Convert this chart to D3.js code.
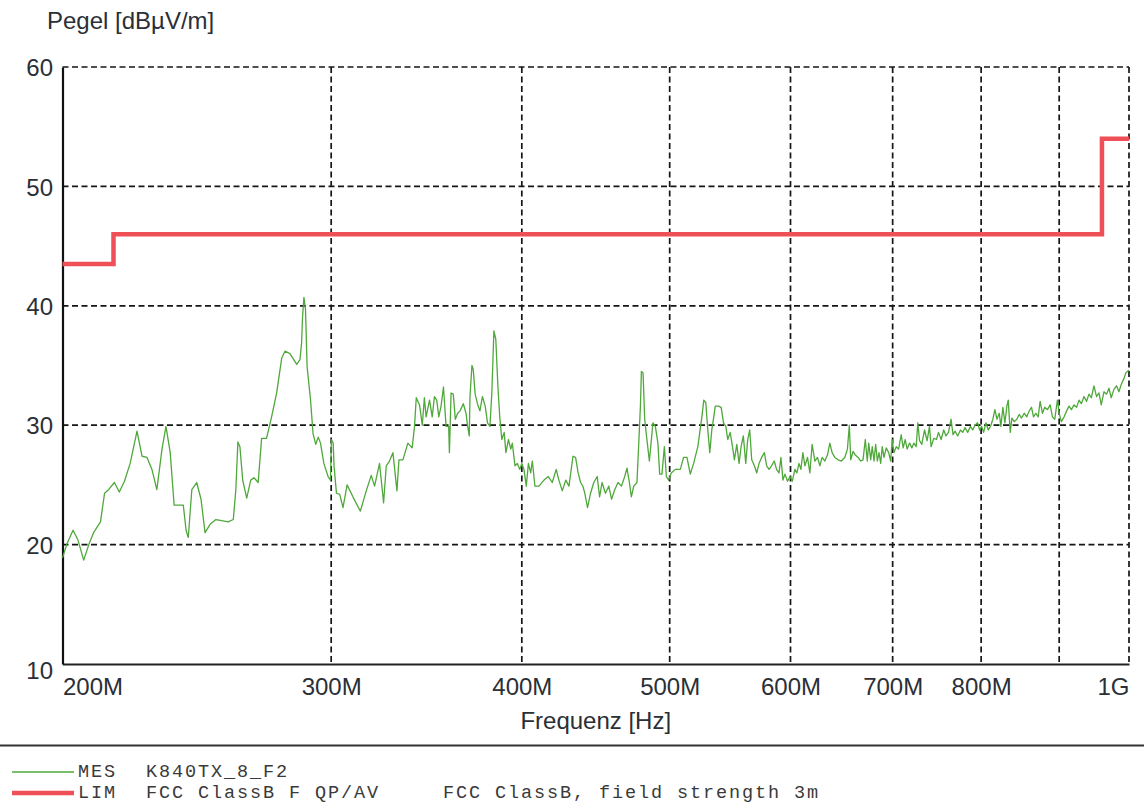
<!DOCTYPE html>
<html>
<head>
<meta charset="utf-8">
<script src="https://cdn.jsdelivr.net/npm/d3@7"></script>
<style>
  html, body { margin: 0; padding: 0; background: #fff; }
  svg { display: block; }
</style>
</head>
<body>
<svg id="chart" width="1144" height="805"></svg>
<script>
// Measured field strength trace (MES K840TX_8_F2): frequency in MHz, level in dBµV/m
const freqMHz = [
  200.0, 201.4, 203.2, 204.7, 206.5, 208.1, 209.6, 211.8, 213.1, 214.4,
  216.3, 217.9, 219.6, 221.5, 223.8, 225.5, 227.2, 228.9, 230.6, 232.4,
  233.8, 235.3, 236.7, 238.2, 240.0, 241.0, 241.8, 243.1, 244.9, 246.5,
  248.0, 249.9, 252.1, 254.3, 256.8, 258.8, 259.8, 260.6, 261.4, 262.5,
  264.1, 265.7, 267.0, 268.7, 270.1, 272.1, 274.2, 276.3, 278.4, 279.8,
  281.9, 284.8, 286.2, 286.9, 287.3, 287.9, 288.6, 289.3, 290.8, 291.9,
  293.1, 294.2, 295.2, 296.7, 298.6, 299.7, 300.1, 300.9, 301.3, 302.4,
  303.9, 305.4, 307.3, 310.0, 313.5, 316.3, 318.7, 320.3, 322.7, 324.7,
  326.0, 327.6, 329.3, 331.3, 332.3, 334.3, 336.8, 339.0, 340.2, 341.1,
  342.8, 344.2, 345.3, 346.2, 348.0, 349.4, 350.6, 351.8, 352.9, 354.1,
  355.4, 356.8, 358.2, 358.6, 359.5, 360.7, 361.8, 363.1, 364.4, 366.2,
  367.7, 368.5, 369.5, 369.9, 371.0, 371.7, 372.8, 374.1, 375.5, 376.9,
  378.5, 379.8, 381.2, 382.3, 383.5, 384.6, 385.8, 386.9, 388.1, 389.5,
  390.5, 392.0, 393.4, 394.3, 395.9, 397.3, 398.8, 400.0, 401.3, 402.7,
  404.0, 405.4, 406.4, 408.0, 410.5, 413.6, 416.3, 418.8, 421.3, 423.0,
  425.2, 427.4, 429.5, 432.1, 433.8, 435.5, 437.1, 438.6, 439.9, 441.7,
  443.7, 445.9, 448.2, 449.8, 451.5, 453.8, 456.1, 458.0, 460.2, 462.5,
  464.9, 467.2, 468.8, 470.5, 471.9, 473.6, 475.9, 477.2, 478.4, 479.1,
  480.3, 481.5, 483.1, 484.9, 486.4, 487.5, 489.3, 491.2, 492.5, 494.2,
  496.0, 497.5, 499.2, 501.2, 504.3, 508.1, 510.6, 513.2, 515.8, 518.4,
  521.7, 524.9, 526.4, 528.0, 529.6, 531.2, 532.8, 534.4, 535.6, 538.2,
  540.4, 542.3, 544.2, 545.8, 547.8, 549.7, 551.3, 553.3, 555.2, 556.9,
  558.8, 560.8, 562.5, 564.2, 565.9, 568.2, 570.2, 572.2, 574.4, 576.8,
  578.8, 580.9, 583.1, 585.5, 587.5, 589.7, 591.4, 593.2, 595.0, 597.3,
  599.5, 601.6, 604.0, 605.8, 607.7, 609.5, 611.3, 613.2, 615.6, 617.8,
  619.9, 622.5, 624.9, 627.2, 629.3, 631.9, 634.4, 636.7, 638.9, 641.5,
  644.7, 647.9, 651.2, 653.8, 655.7, 657.1, 659.4, 661.7, 664.4, 667.1,
  669.4, 671.7, 673.7, 675.2, 677.2, 678.8, 680.6, 682.3, 684.0, 685.7,
  687.5, 689.1, 690.9, 693.3, 695.8, 697.9, 699.5, 701.3, 703.8, 706.3,
  709.1, 711.2, 713.4, 715.5, 718.1, 720.6, 722.8, 725.3, 727.1, 729.0,
  731.5, 734.5, 737.4, 740.0, 741.8, 744.8, 747.9, 750.1, 753.1, 756.1,
  758.7, 761.5, 764.5, 766.8, 769.1, 772.2, 775.4, 778.1, 780.8, 783.9,
  787.1, 789.9, 792.6, 795.8, 798.2, 800.6, 803.0, 805.8, 808.7, 811.9,
  814.3, 816.8, 819.3, 822.2, 824.2, 826.7, 829.2, 831.7, 833.4, 835.9,
  838.0, 841.0, 844.3, 847.3, 850.3, 853.7, 857.1, 860.2, 863.2, 865.8,
  868.8, 871.9, 874.5, 877.6, 880.6, 884.2, 887.8, 890.9, 894.0, 897.6,
  900.3, 903.0, 906.7, 910.2, 913.5, 916.7, 920.4, 924.0, 927.4, 930.6,
  934.4, 938.0, 941.4, 944.7, 948.5, 952.2, 955.7, 959.0, 962.9, 966.7,
  970.2, 973.5, 977.5, 981.3, 984.9, 988.3, 992.3, 995.3, 1000.0
];
const levelDb = [
  18.9, 20.1, 21.2, 20.4, 18.7, 20.0, 21.0, 21.9, 24.3, 24.6,
  25.2, 24.4, 25.3, 26.8, 29.5, 27.4, 27.3, 26.3, 24.6, 28.0,
  29.9, 27.7, 23.3, 23.3, 23.3, 21.2, 20.6, 24.6, 25.2, 23.8,
  21.0, 21.7, 22.1, 22.0, 21.9, 22.1, 24.6, 28.6, 28.2, 25.4,
  23.9, 25.4, 25.6, 25.2, 28.9, 28.9, 30.7, 32.7, 35.6, 36.2,
  36.0, 35.1, 35.5, 36.9, 39.0, 40.7, 39.7, 34.9, 32.1, 29.3,
  28.4, 29.0, 28.5, 26.8, 25.7, 25.4, 28.8, 28.5, 26.6, 24.3,
  24.2, 23.1, 25.0, 24.0, 22.8, 24.5, 25.8, 24.9, 26.8, 23.5,
  26.6, 27.0, 27.7, 24.5, 27.1, 27.1, 28.5, 28.1, 29.9, 32.3,
  31.7, 30.0, 32.3, 30.7, 32.1, 30.7, 32.4, 32.1, 30.7, 31.6,
  33.2, 29.9, 29.9, 27.7, 32.7, 32.6, 30.5, 31.0, 31.2, 31.8,
  31.0, 30.0, 29.1, 32.4, 35.0, 34.7, 32.6, 31.8, 31.2, 32.4,
  31.6, 30.2, 29.9, 32.7, 37.9, 37.2, 33.3, 30.7, 28.8, 29.4,
  27.7, 28.8, 28.0, 28.5, 26.6, 26.8, 26.3, 26.8, 26.3, 24.9,
  26.8, 26.0, 27.0, 24.9, 24.9, 25.4, 25.7, 25.2, 26.3, 25.4,
  24.5, 25.4, 24.9, 27.4, 27.3, 26.0, 25.2, 24.9, 24.3, 23.1,
  24.3, 25.2, 25.7, 24.0, 25.2, 24.3, 24.9, 23.8, 24.6, 25.2,
  24.9, 25.7, 26.4, 25.2, 24.0, 24.9, 25.2, 28.5, 31.6, 34.5,
  34.4, 30.5, 28.8, 27.0, 28.8, 30.2, 29.9, 28.5, 25.9, 25.9,
  28.2, 25.7, 25.4, 26.0, 26.3, 26.3, 27.3, 27.3, 25.9, 26.8,
  28.2, 30.7, 32.1, 31.9, 29.6, 27.7, 29.6, 30.7, 31.6, 31.6,
  31.5, 30.2, 29.9, 28.8, 29.4, 28.2, 27.1, 28.4, 26.8, 28.2,
  29.1, 26.8, 28.8, 29.6, 27.1, 26.6, 26.0, 26.8, 27.3, 27.7,
  26.6, 26.3, 26.6, 27.0, 26.3, 26.0, 27.3, 25.4, 25.9, 25.3,
  25.7, 25.3, 26.3, 26.0, 26.8, 26.3, 27.7, 26.6, 27.3, 26.0,
  28.4, 27.0, 27.3, 26.6, 27.3, 27.0, 27.5, 28.5, 27.7, 27.3,
  27.1, 27.0, 27.3, 28.0, 30.0, 27.1, 27.8, 27.5, 27.3, 27.0,
  27.1, 28.8, 27.0, 28.5, 27.1, 28.2, 27.0, 28.4, 27.0, 27.7,
  26.8, 28.2, 27.3, 28.1, 27.7, 27.0, 28.8, 27.7, 28.2, 28.0,
  29.2, 28.1, 28.8, 28.0, 28.5, 28.1, 28.5, 28.2, 30.2, 28.7,
  28.4, 29.6, 28.7, 29.9, 28.2, 28.9, 28.8, 29.4, 28.8, 29.6,
  29.1, 29.4, 30.5, 29.2, 29.5, 29.1, 29.6, 29.4, 29.8, 29.4,
  29.9, 29.6, 30.0, 30.2, 29.6, 29.9, 29.4, 30.2, 29.6, 30.0,
  30.5, 31.3, 30.5, 31.0, 29.9, 31.5, 30.2, 31.6, 32.1, 29.4,
  30.6, 30.3, 30.5, 30.9, 30.6, 31.0, 30.7, 31.2, 31.5, 30.7,
  31.0, 30.7, 32.0, 31.0, 31.5, 31.3, 31.7, 30.7, 30.5, 32.1,
  30.9, 30.3, 30.7, 31.2, 31.6, 31.3, 31.7, 31.5, 32.1, 31.8,
  32.4, 32.0, 32.6, 32.3, 33.3, 32.4, 32.7, 31.7, 32.8, 32.6,
  33.1, 32.3, 33.0, 33.3, 32.8, 33.4, 33.9, 34.4, 34.6
];

// FCC Class B limit (QP/AV, 3 m): breakpoints in MHz and the level from each breakpoint on
const limitMHz = [200, 216, 960, 1000];
const limitDb = [43.5, 46, 54, 54];

// Axis ticks
const yTicks = [10, 20, 30, 40, 50, 60];
const xGridMHz = [300, 400, 500, 600, 700, 800, 900, 1000];
const xLabelMHz = [200, 300, 400, 500, 600, 700, 800, 1000];
const xLabelText = ["200M", "300M", "400M", "500M", "600M", "700M", "800M", "1G"];

// Legend entries
const legendKeys = ["MES", "LIM"];
const legendNames = ["K840TX_8_F2", "FCC ClassB F QP/AV"];
const legendNotes = ["", "FCC ClassB, field strength 3m"];

(function drawChart() {
  const svg = d3.select("#chart");
  const plotLeft = 62.5, plotRight = 1129, plotTop = 67, plotBottom = 664;
  const sansFont = "'Liberation Sans', Arial, Helvetica, sans-serif";
  const monoFont = "'Courier New', 'Liberation Mono', monospace";
  const textColor = "#2b2f36";

  svg.append("rect").attr("width", 1144).attr("height", 805).attr("fill", "#fff");

  const x = d3.scaleLog().domain([200, 1000]).range([plotLeft, plotRight]);
  const y = d3.scaleLinear().domain([10, 60]).range([plotBottom, plotTop]);

  // Dashed grid
  const grid = svg.append("g").attr("class", "grid");
  grid.selectAll("line.h")
    .data(yTicks.filter(v => v > 10))
    .join("line").attr("class", "h")
    .attr("x1", plotLeft).attr("x2", plotRight)
    .attr("y1", d => y(d)).attr("y2", d => y(d));
  grid.selectAll("line.v")
    .data(xGridMHz)
    .join("line").attr("class", "v")
    .attr("x1", d => x(d)).attr("x2", d => x(d))
    .attr("y1", plotTop).attr("y2", plotBottom);
  grid.selectAll("line")
    .attr("stroke", "#161616")
    .attr("stroke-width", 1.7)
    .attr("stroke-dasharray", "6,3.5");

  // Solid left and bottom axes with their labels
  const xAxis = d3.axisBottom(x)
    .tickValues(xLabelMHz)
    .tickSize(0)
    .tickFormat((d, i) => xLabelText[i]);
  const gx = svg.append("g").attr("transform", `translate(0,${plotBottom})`).call(xAxis);
  gx.select(".domain").attr("stroke", "#222").attr("stroke-width", 2);
  gx.selectAll("text")
    .attr("y", 31).attr("dy", 0)
    .attr("font-family", sansFont).attr("font-size", 24).attr("fill", textColor)
    .attr("text-anchor", (d, i) => i === 0 ? "start" : (i === xLabelMHz.length - 1 ? "end" : "middle"));

  const yAxis = d3.axisLeft(y).tickValues(yTicks).tickSize(0).tickPadding(9.5);
  const gy = svg.append("g").attr("transform", `translate(${plotLeft},0)`).call(yAxis);
  gy.select(".domain").attr("stroke", "#111").attr("stroke-width", 2.2);
  gy.selectAll("text")
    .attr("font-family", sansFont).attr("font-size", 24).attr("fill", textColor)
    .attr("dy", d => d === 10 ? "0.62em" : "0.36em");

  // Axis titles
  svg.append("text")
    .attr("x", 47).attr("y", 29)
    .attr("font-family", sansFont).attr("font-size", 24).attr("fill", textColor)
    .text("Pegel [dBµV/m]");
  svg.append("text")
    .attr("x", (plotLeft + plotRight) / 2).attr("y", 729)
    .attr("text-anchor", "middle")
    .attr("font-family", sansFont).attr("font-size", 24).attr("fill", textColor)
    .text("Frequenz [Hz]");

  // Limit line (step)
  const limitLine = d3.line()
    .x(d => x(d[0])).y(d => y(d[1]))
    .curve(d3.curveStepAfter);
  svg.append("path")
    .datum(limitMHz.map((f, i) => [f, limitDb[i]]))
    .attr("d", limitLine)
    .attr("fill", "none")
    .attr("stroke", "#ef4f57")
    .attr("stroke-width", 4.5)
    .attr("stroke-linejoin", "miter");

  // Measurement trace
  const traceLine = d3.line().x(d => x(d[0])).y(d => y(d[1]));
  svg.append("path")
    .datum(freqMHz.map((f, i) => [f, levelDb[i]]))
    .attr("d", traceLine)
    .attr("fill", "none")
    .attr("stroke", "#4fa83a")
    .attr("stroke-width", 1.3)
    .attr("stroke-linejoin", "round");

  // Separator above the legend
  svg.append("line")
    .attr("x1", 0).attr("x2", 1144)
    .attr("y1", 745.5).attr("y2", 745.5)
    .attr("stroke", "#333").attr("stroke-width", 2);

  // Legend: monospaced rows, glyphs slightly smaller than their 13 px advance
  const legendStyles = [
    { color: "#4fa83a", width: 1.3 },
    { color: "#ef4f57", width: 4.5 }
  ];
  const legend = svg.append("g");
  legendKeys.forEach((key, i) => {
    const base = 777 + i * 21;
    legend.append("line")
      .attr("x1", 12).attr("x2", 74)
      .attr("y1", base - 5).attr("y2", base - 5)
      .attr("stroke", legendStyles[i].color)
      .attr("stroke-width", legendStyles[i].width);
    const parts = [[78, key], [146, legendNames[i]], [443, legendNotes[i]]];
    parts.forEach(([tx, s]) => {
      if (!s) return;
      legend.append("text")
        .attr("x", tx).attr("y", base)
        .attr("font-family", monoFont).attr("font-size", 18.5)
        .attr("letter-spacing", 1.9)
        .attr("fill", "#3a3a3a")
        .text(s);
    });
  });
})();
</script>
</body>
</html>
